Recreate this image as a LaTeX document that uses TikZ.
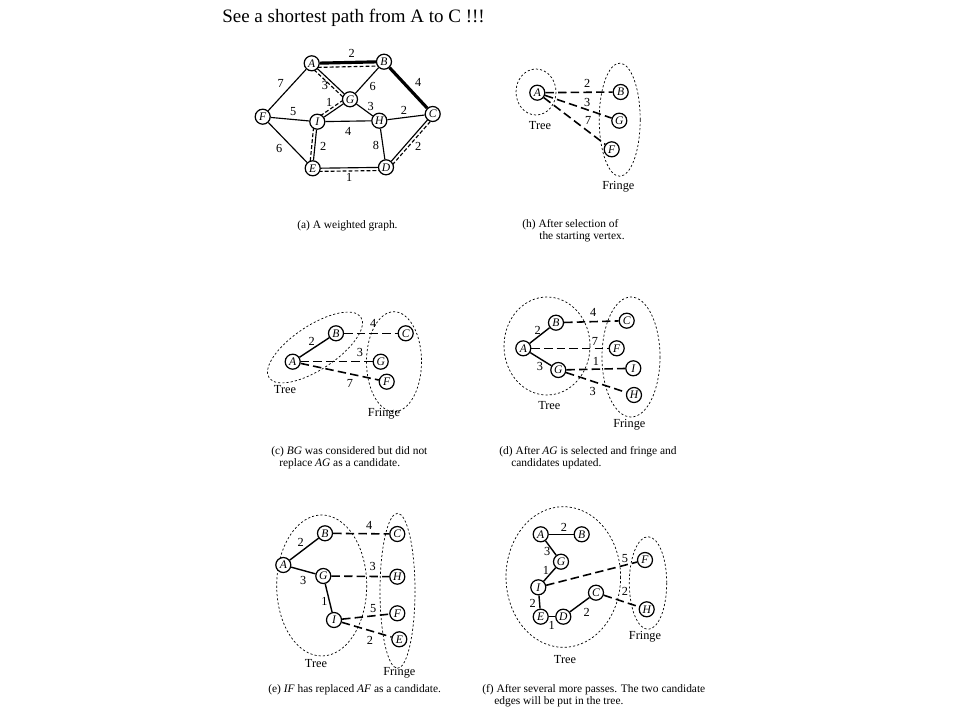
\documentclass[tikz,border=0pt]{standalone}
\usepackage{fontspec}
\setmainfont{Liberation Serif}
\usetikzlibrary{calc,backgrounds}
\begin{document}
\begin{tikzpicture}[x=0.02cm,y=-0.02cm,
  vtx/.style={circle, draw, line width=0.7pt, fill=white, inner sep=0pt, minimum size=0.3cm, font=\fontsize{6.6}{6.6}\selectfont\itshape},
  lbl/.style={inner sep=0pt, font=\fontsize{7}{8}\selectfont},
  captext/.style={anchor=west, inner sep=0pt, font=\fontsize{6.5}{7}\selectfont},
  tagtext/.style={inner sep=0pt, font=\fontsize{7}{8}\selectfont},
  plainedge/.style={line width=0.65pt},
  treeedge/.style={line width=0.8pt},
  heavy/.style={line width=1.8pt},
  pdash/.style={line width=0.65pt, dash pattern=on 2.2pt off 1.2pt},
  cand/.style={line width=0.9pt, dash pattern=on 4.8pt off 2.4pt},
  region/.style={line width=0.4pt, dash pattern=on 1.2pt off 1.2pt}]
\useasboundingbox (0,0) rectangle (960,720);

% ---------- title ----------
\node[anchor=west, inner sep=0pt, font=\fontsize{10.8}{13}\selectfont] (title) at (222,18) {See a shortest path from A to C !!!};

% ---------- (a) ----------
\node[vtx] (aA) at (311.7,63.3) {A};
\node[vtx] (aB) at (384,61.7) {B};
\node[vtx] (aG) at (350,99.3) {G};
\node[vtx] (aF) at (262.7,116.7) {F};
\node[vtx] (aI) at (317.3,121.7) {I};
\node[vtx] (aH) at (379.3,120.7) {H};
\node[vtx] (aC) at (432.7,114) {C};
\node[vtx] (aE) at (312.7,168.3) {E};
\node[vtx] (aD) at (386,167.3) {D};
\node[lbl] (la1) at (351.7,53.3) {2};
\node[lbl] (la2) at (280.7,83.3) {7};
\node[lbl] (la3) at (325,85) {3};
\node[lbl] (la4) at (372.7,86.7) {6};
\node[lbl] (la5) at (418.3,82.7) {4};
\node[lbl] (la6) at (329.3,102.7) {1};
\node[lbl] (la7) at (293.3,111.7) {5};
\node[lbl] (la8) at (370.7,106) {3};
\node[lbl] (la9) at (404,110.7) {2};
\node[lbl] (la10) at (348.3,131.7) {4};
\node[lbl] (la11) at (279.3,148.3) {6};
\node[lbl] (la12) at (323.3,146.7) {2};
\node[lbl] (la13) at (376,145) {8};
\node[lbl] (la14) at (418.3,146) {2};
\node[lbl] (la15) at (349.3,177.3) {1};
\node[captext] (capa) at (297,226) {(a) A weighted graph.};

% ---------- (h) ----------
\node[vtx] (bA) at (537.3,92.7) {A};
\node[vtx] (bB) at (620.7,92) {B};
\node[vtx] (bG) at (619.3,120.7) {G};
\node[vtx] (bF) at (611.7,149.3) {F};
\node[lbl] (lb1) at (587.3,83.3) {2};
\node[lbl] (lb2) at (587.3,102.3) {3};
\node[lbl] (lb3) at (588.3,120.7) {7};
\node[tagtext] (bTree) at (540,126) {Tree};
\node[tagtext] (bFringe) at (618.3,186.7) {Fringe};
\node[captext] (caph1) at (522,225) {(h) After selection of};
\node[captext] (caph2) at (539,237) {the starting vertex.};

% ---------- (c) ----------
\node[vtx] (cA) at (292.7,361.7) {A};
\node[vtx] (cB) at (336,333.3) {B};
\node[vtx] (cC) at (405.7,333.3) {C};
\node[vtx] (cG) at (380.7,361.7) {G};
\node[vtx] (cF) at (386.7,381.7) {F};
\node[lbl] (lc1) at (311.7,341.7) {2};
\node[lbl] (lc2) at (373.3,323.3) {4};
\node[lbl] (lc3) at (360,352.7) {3};
\node[lbl] (lc4) at (350,383.3) {7};
\node[tagtext] (cTree) at (285,390) {Tree};
\node[tagtext] (cFringe) at (384,414) {Fringe};
\node[captext] (capc1) at (271,452) {(c) \textit{BG} was considered but did not};
\node[captext] (capc2) at (279,464) {replace \textit{AG} as a candidate.};

% ---------- (d) ----------
\node[vtx] (dA) at (523.3,348.3) {A};
\node[vtx] (dB) at (556,322.7) {B};
\node[vtx] (dG) at (558.3,370) {G};
\node[vtx] (dC) at (626.7,320.7) {C};
\node[vtx] (dF) at (616.7,348.3) {F};
\node[vtx] (dI) at (633.3,368.3) {I};
\node[vtx] (dH) at (634,395) {H};
\node[lbl] (ld1) at (537.7,330) {2};
\node[lbl] (ld2) at (593.3,312.7) {4};
\node[lbl] (ld3) at (595,341.7) {7};
\node[lbl] (ld4) at (540,366.7) {3};
\node[lbl] (ld5) at (596,361.7) {1};
\node[lbl] (ld6) at (592.7,391) {3};
\node[tagtext] (dTree) at (549.3,405.7) {Tree};
\node[tagtext] (dFringe) at (629.3,425) {Fringe};
\node[captext] (capd1) at (499,452) {(d) After \textit{AG} is selected and fringe and};
\node[captext] (capd2) at (511,464) {candidates updated.};

% ---------- (e) ----------
\node[vtx] (eA) at (283.3,565) {A};
\node[vtx] (eB) at (325,533.3) {B};
\node[vtx] (eG) at (323.3,576) {G};
\node[vtx] (eI) at (334,620) {I};
\node[vtx] (eC) at (397.3,534) {C};
\node[vtx] (eH) at (397.3,576.7) {H};
\node[vtx] (eF) at (397.3,613.3) {F};
\node[vtx] (eE) at (399.3,639.3) {E};
\node[lbl] (le1) at (300.7,542.7) {2};
\node[lbl] (le2) at (369.3,525) {4};
\node[lbl] (le3) at (303.3,580) {3};
\node[lbl] (le4) at (372.7,566.7) {3};
\node[lbl] (le5) at (324.5,601.7) {1};
\node[lbl] (le6) at (373.3,608.3) {5};
\node[lbl] (le7) at (370,640.7) {2};
\node[tagtext] (eTree) at (316,663.3) {Tree};
\node[tagtext] (eFringe) at (399.3,672.3) {Fringe};
\node[captext] (cape1) at (268,690) {(e) \textit{IF} has replaced \textit{AF} as a candidate.};

% ---------- (f) ----------
\node[vtx] (fA) at (540.7,534.3) {A};
\node[vtx] (fB) at (581.7,534.3) {B};
\node[vtx] (fG) at (561,561.7) {G};
\node[vtx] (fI) at (538.3,587.3) {I};
\node[vtx] (fE) at (540.7,616.7) {E};
\node[vtx] (fD) at (563.3,616.7) {D};
\node[vtx] (fC) at (596,592.7) {C};
\node[vtx] (fF) at (645,560) {F};
\node[vtx] (fH) at (646.7,609.3) {H};
\node[lbl] (lf1) at (564,527.3) {2};
\node[lbl] (lf2) at (547.3,551.7) {3};
\node[lbl] (lf3) at (546,570) {1};
\node[lbl] (lf4) at (625,558.3) {5};
\node[lbl] (lf5) at (532.7,603.3) {2};
\node[lbl] (lf6) at (625,591.7) {2};
\node[lbl] (lf7) at (586.7,612.7) {2};
\node[lbl] (lf8) at (551.7,625) {1};
\node[tagtext] (fTree) at (565,659.3) {Tree};
\node[tagtext] (fFringe) at (645,636.7) {Fringe};
\node[captext] (capf1) at (482,690) {(f) After several more passes. The two candidate};
\node[captext] (capf2) at (494,702) {edges will be put in the tree.};

% ---------- lines behind nodes ----------
\begin{scope}[on background layer]
  \fill[white] (0,0) rectangle (960,720);
  % (a)
  \draw[heavy] (aA) -- (aB);
  \draw[heavy] (aB) -- (aC);
  \foreach \p/\q in {aA/aG, aB/aG, aA/aF, aF/aI, aF/aE, aG/aI, aG/aH, aI/aH, aH/aC, aI/aE, aH/aD, aE/aD, aC/aD}
    \draw[plainedge] (\p) -- (\q);
  \draw[pdash] ($(aA)!2.4pt!-90:(aB)$) -- ($(aB)!2.4pt!90:(aA)$);
  \foreach \p/\q in {aA/aG, aG/aI, aI/aE, aE/aD, aD/aC}
    \draw[pdash] ($(\p)!1.8pt!-90:(\q)$) -- ($(\q)!1.8pt!90:(\p)$);
  % (h)
  \draw[region] (536,92) ellipse [x radius=20, y radius=23];
  \draw[region] (619.7,119.7) ellipse [x radius=20.5, y radius=56.5];
  \foreach \q in {bB, bG, bF} \draw[cand] (bA) -- (\q);
  % (c)
  \draw[region, rotate around={33.4:(315,347.5)}] (315,347.5) ellipse [x radius=55, y radius=22];
  \draw[region] (394,361.7) ellipse [x radius=27.5, y radius=50];
  \draw[treeedge] (cA) -- (cB);
  \draw[cand] (cB) -- (cC);
  \draw[cand] (cA) -- (cG);
  \draw[cand] (cA) -- (cF);
  % (d)
  \draw[region] (547,346) ellipse [x radius=43, y radius=49];
  \draw[region] (631,357) ellipse [x radius=29, y radius=60];
  \draw[treeedge] (dA) -- (dB);
  \draw[treeedge] (dA) -- (dG);
  \draw[cand] (dB) -- (dC);
  \draw[cand] (dA) -- (dF);
  \draw[cand] (dG) -- (dI);
  \draw[cand] (dG) -- (dH);
  % (e)
  \draw[region] (321.7,585.5) ellipse [x radius=45, y radius=70.5];
  \draw[region] (397.5,590.8) ellipse [x radius=17.5, y radius=77.5];
  \draw[treeedge] (eA) -- (eB);
  \draw[treeedge] (eA) -- (eG);
  \draw[treeedge] (eG) -- (eI);
  \draw[cand] (eB) -- (eC);
  \draw[cand] (eG) -- (eH);
  \draw[cand] (eI) -- (eF);
  \draw[cand] (eI) -- (eE);
  % (f)
  \draw[region] (563.3,577) ellipse [x radius=57.3, y radius=70.3];
  \draw[region] (648,583) ellipse [x radius=18.7, y radius=46.3];
  \foreach \p/\q in {fA/fB, fA/fG, fG/fI, fI/fE, fE/fD, fD/fC}
    \draw[treeedge] (\p) -- (\q);
  \draw[cand] (fI) -- (fF);
  \draw[cand] (fC) -- (fH);
\end{scope}
\end{tikzpicture}
\end{document}
